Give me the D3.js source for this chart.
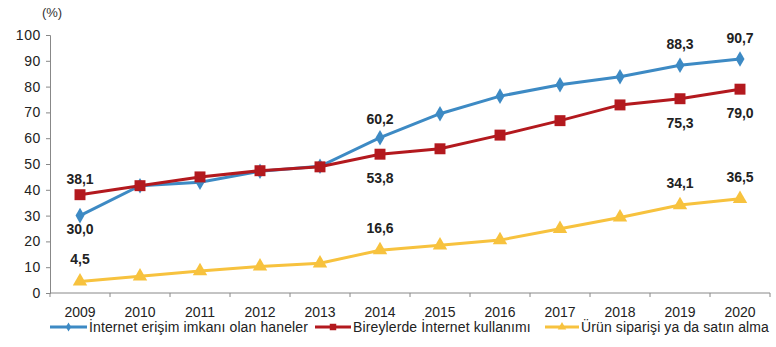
<!DOCTYPE html>
<html>
<head>
<meta charset="utf-8">
<script src="https://cdn.jsdelivr.net/npm/d3@7"></script>
<style>
  body { margin: 0; background: #fff; }
  svg text { font-family: "Liberation Sans", Arial, sans-serif; }
</style>
</head>
<body>
<div id="chart"></div>
<script>
var years = ["2009","2010","2011","2012","2013","2014","2015","2016","2017","2018","2019","2020"];
var haneler = [30.0, 41.6, 42.9, 47.2, 49.1, 60.2, 69.5, 76.3, 80.7, 83.8, 88.3, 90.7];
var bireyler = [38.1, 41.6, 45.0, 47.4, 48.9, 53.8, 55.9, 61.2, 66.8, 72.9, 75.3, 79.0];
var siparis = [4.5, 6.5, 8.5, 10.3, 11.5, 16.6, 18.5, 20.5, 24.9, 29.3, 34.1, 36.5];
var yTicks = [0, 10, 20, 30, 40, 50, 60, 70, 80, 90, 100];
var seriesNames = ["İnternet erişim imkanı olan haneler", "Bireylerde İnternet kullanımı", "Ürün siparişi ya da satın alma"];
// years that get a value label
var labelled = ["2009", "2014", "2019", "2020"];

var W = 776, H = 347;
var svg = d3.select("#chart").append("svg")
    .attr("width", W)
    .attr("height", H);

var x = d3.scaleBand().domain(years).range([50, 770]);
var y = d3.scaleLinear().domain([0, 100]).range([293, 35]);
var cx = function (d) { return x(d) + x.bandwidth() / 2; };

// axes
var yAxis = svg.append("g")
    .attr("transform", "translate(50,0)")
    .call(d3.axisLeft(y).tickValues(yTicks).tickSize(4).tickPadding(5));
yAxis.select(".domain").attr("stroke", "#888");
yAxis.selectAll(".tick line").attr("stroke", "#888");
yAxis.selectAll(".tick text").attr("font-size", 14).attr("fill", "#222")
    .attr("letter-spacing", 0.6);

var xAxis = svg.append("g")
    .attr("transform", "translate(0,293)");
xAxis.append("line")
    .attr("x1", 50).attr("x2", 770)
    .attr("stroke", "#888");
xAxis.selectAll("line.tk")
    .data(years.concat(["end"]))
    .enter().append("line")
    .attr("class", "tk")
    .attr("x1", function (d, i) { return 50 + i * x.step(); })
    .attr("x2", function (d, i) { return 50 + i * x.step(); })
    .attr("y1", 0).attr("y2", 4)
    .attr("stroke", "#888");
xAxis.selectAll("text")
    .data(years)
    .enter().append("text")
    .attr("x", cx)
    .attr("y", 24)
    .attr("text-anchor", "middle")
    .attr("font-size", 14)
    .attr("fill", "#222")
    .text(function (d) { return d; });

svg.append("text")
    .attr("x", 52).attr("y", 17)
    .attr("text-anchor", "middle")
    .attr("font-size", 13)
    .attr("fill", "#333")
    .text("(%)");

var series = [
    { name: seriesNames[0], values: haneler, color: "#3d8ac4", marker: d3.symbolDiamond, size: 70 },
    { name: seriesNames[1], values: bireyler, color: "#b3191e", marker: d3.symbolSquare, size: 120 },
    { name: seriesNames[2], values: siparis, color: "#f7c23e", marker: d3.symbolTriangle, size: 90 }
];

var line = d3.line()
    .x(function (d) { return cx(d.year); })
    .y(function (d) { return y(d.v); });

series.forEach(function (s) {
    var pts = years.map(function (yr, i) { return { year: yr, v: s.values[i] }; });
    svg.append("path")
        .datum(pts)
        .attr("fill", "none")
        .attr("stroke", s.color)
        .attr("stroke-width", 3)
        .attr("d", line);
    svg.selectAll(null)
        .data(pts)
        .enter().append("path")
        .attr("transform", function (d) { return "translate(" + cx(d.year) + "," + y(d.v) + ")"; })
        .attr("d", d3.symbol().type(s.marker).size(s.size))
        .attr("fill", s.color);
});

// value labels
function fmt(v) { return v.toFixed(1).replace(".", ","); }
function addLabels(values, placeFn) {
    years.forEach(function (yr, i) {
        if (labelled.indexOf(yr) < 0) return;
        svg.append("text")
            .attr("x", cx(yr))
            .attr("y", y(values[i]) + placeFn(yr))
            .attr("text-anchor", "middle")
            .attr("font-size", 14)
            .attr("font-weight", "bold")
            .attr("fill", "#222")
            .text(fmt(values[i]));
    });
}
addLabels(haneler, function (yr) { return yr == "2009" ? 18 : (yr == "2014" ? -14 : -16); });
addLabels(bireyler, function (yr) { return yr == "2009" ? -11 : 29; });
addLabels(siparis, function (yr) { return -17; });

// legend
var legend = [
    { x: 50, tx: 89 },
    { x: 315, tx: 353 },
    { x: 545, tx: 581 }
];
series.forEach(function (s, i) {
    var g = svg.append("g");
    var lx = legend[i].x, ly = 327;
    g.append("line")
        .attr("x1", lx).attr("x2", legend[i].tx - 2)
        .attr("y1", ly).attr("y2", ly)
        .attr("stroke", s.color)
        .attr("stroke-width", 3);
    g.append("path")
        .attr("transform", "translate(" + ((lx + legend[i].tx - 2) / 2) + "," + ly + ")")
        .attr("d", d3.symbol().type(s.marker).size(s.size * 0.35))
        .attr("fill", s.color);
    g.append("text")
        .attr("x", legend[i].tx)
        .attr("y", ly + 5)
        .attr("font-size", 14)
        .attr("fill", "#222")
        .attr("letter-spacing", 0.12)
        .text(s.name);
});
</script>
</body>
</html>
